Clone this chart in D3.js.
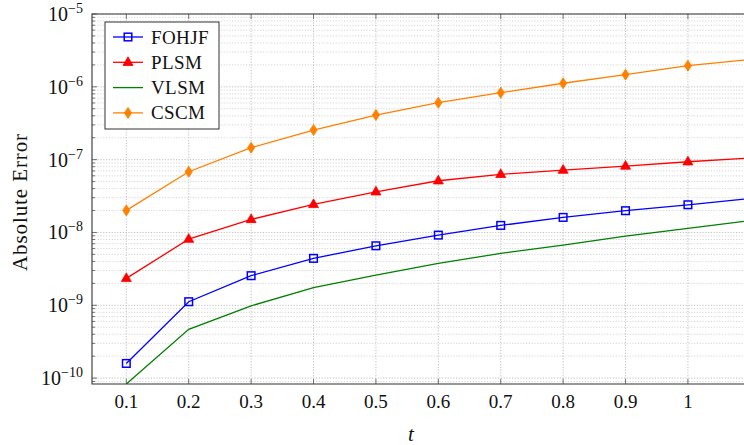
<!DOCTYPE html>
<html>
<head>
<meta charset="utf-8">
<script src="https://d3js.org/d3.v7.min.js"></script>
<style>
  body { margin: 0; background: white; }
  text { font-family: "Liberation Serif", "DejaVu Serif", serif; fill: #111; }
</style>
</head>
<body>
<div id="chart"></div>
<script>
// data
var tValues = [0.1, 0.2, 0.3, 0.4, 0.5, 0.6, 0.7, 0.8, 0.9, 1.0, 1.1, 1.2];
var fohjf = [1.59e-10, 1.12e-9, 2.55e-9, 4.41e-9, 6.56e-9, 9.2e-9, 1.25e-8, 1.61e-8, 1.99e-8, 2.4e-8, 2.92e-8, 3.4e-8];
var plsm  = [2.34e-9, 8.1e-9, 1.51e-8, 2.43e-8, 3.62e-8, 5.13e-8, 6.28e-8, 7.19e-8, 8.17e-8, 9.35e-8, 1.05e-7, 1.15e-7];
var vlsm  = [8.3e-11, 4.67e-10, 9.84e-10, 1.75e-9, 2.6e-9, 3.76e-9, 5.16e-9, 6.7e-9, 8.93e-9, 1.14e-8, 1.46e-8, 1.8e-8];
var cscm  = [2.01e-8, 6.82e-8, 1.46e-7, 2.55e-7, 4.1e-7, 6.05e-7, 8.3e-7, 1.12e-6, 1.47e-6, 1.95e-6, 2.38e-6, 2.8e-6];
var xTicks = [0.1, 0.2, 0.3, 0.4, 0.5, 0.6, 0.7, 0.8, 0.9, 1];
var yExponents = [-5, -6, -7, -8, -9, -10];
var seriesNames = ["FOHJF", "PLSM", "VLSM", "CSCM"];

var width = 744, height = 445;
var plotLeft = 92, plotTop = 14, plotBottom = 384;

var svg = d3.select("#chart")
    .append("svg")
    .attr("width", width)
    .attr("height", height)

var x = d3.scaleLinear().domain([0.045, 1.255]).range([plotLeft, plotLeft + 1.21 * 624]);
var y = d3.scaleLog().domain([8.3e-11, 1e-5]).range([plotBottom, plotTop]);
var plotRight = x.range()[1];

svg.append("clipPath").attr("id", "plotclip")
    .append("rect")
    .attr("x", plotLeft).attr("y", plotTop)
    .attr("width", plotRight - plotLeft).attr("height", plotBottom - plotTop)

// minor + major horizontal grid
var minorY = [];
for (var e = -11; e < -4; e++) {
    for (var m = 1; m <= 9; m++) {
        var v = m * Math.pow(10, e);
        if (v >= y.domain()[0] && v <= y.domain()[1] * 1.0001) minorY.push({v: v, major: m == 1});
    }
}

var grid = svg.append("g")
grid.selectAll("line.hg")
    .data(minorY)
    .enter()
    .append("line")
    .attr("x1", plotLeft).attr("x2", plotRight)
    .attr("y1", function(d){ return y(d.v); })
    .attr("y2", function(d){ return y(d.v); })
    .attr("stroke", function(d){ return d.major ? "#b0b0b0" : "#cccccc"; })
    .attr("stroke-width", 0.8)
    .attr("stroke-dasharray", "1.2,1.6")

grid.selectAll("line.vg")
    .data(xTicks)
    .enter()
    .append("line")
    .attr("x1", function(d){ return x(d); })
    .attr("x2", function(d){ return x(d); })
    .attr("y1", plotTop).attr("y2", plotBottom)
    .attr("stroke", "#b0b0b0")
    .attr("stroke-width", 0.8)
    .attr("stroke-dasharray", "1.2,1.6")

// small inward ticks
var ticks = svg.append("g").attr("stroke", "#555").attr("stroke-width", 0.8)
ticks.selectAll("line.yt")
    .data(minorY)
    .enter()
    .append("line")
    .attr("x1", plotLeft)
    .attr("x2", function(d){ return plotLeft + (d.major ? 5 : 3); })
    .attr("y1", function(d){ return y(d.v); })
    .attr("y2", function(d){ return y(d.v); })
ticks.selectAll("line.xt")
    .data(xTicks)
    .enter()
    .append("line")
    .attr("x1", function(d){ return x(d); })
    .attr("x2", function(d){ return x(d); })
    .attr("y1", plotBottom).attr("y2", plotBottom - 5)
ticks.selectAll("line.xt2")
    .data(xTicks)
    .enter()
    .append("line")
    .attr("x1", function(d){ return x(d); })
    .attr("x2", function(d){ return x(d); })
    .attr("y1", plotTop).attr("y2", plotTop + 5)

// series
var series = [
    {name: seriesNames[0], values: fohjf, color: "#0000ff", marker: "square"},
    {name: seriesNames[1], values: plsm,  color: "#ff0000", marker: "triangle"},
    {name: seriesNames[2], values: vlsm,  color: "#008000", marker: "none"},
    {name: seriesNames[3], values: cscm,  color: "#ff8000", marker: "diamond"}
];

var line = d3.line()
    .x(function(d){ return x(d[0]); })
    .y(function(d){ return y(d[1]); })

var plot = svg.append("g").attr("clip-path", "url(#plotclip)")

function drawMarker(g, type, color) {
    if (type == "square") {
        g.append("rect").attr("x", -3.8).attr("y", -3.8).attr("width", 7.6).attr("height", 7.6)
            .attr("fill", "none").attr("stroke", color).attr("stroke-width", 1.5)
    } else if (type == "triangle") {
        g.append("path").attr("d", "M0,-5.5L5,3.2L-5,3.2Z")
            .attr("fill", color).attr("stroke", color).attr("stroke-width", 0.8)
    } else if (type == "diamond") {
        g.append("path").attr("d", "M0,-5.5L3.6,0L0,5.5L-3.6,0Z")
            .attr("fill", color).attr("stroke", color).attr("stroke-width", 0.8)
    }
}

series.forEach(function(s) {
    var pts = tValues.map(function(t, i){ return [t, s.values[i]]; });
    plot.append("path")
        .datum(pts)
        .attr("d", line)
        .attr("fill", "none")
        .attr("stroke", s.color)
        .attr("stroke-width", 1.3)
    if (s.marker != "none") {
        plot.selectAll(null)
            .data(pts)
            .enter()
            .append("g")
            .attr("transform", function(d){ return "translate(" + x(d[0]) + "," + y(d[1]) + ")"; })
            .each(function(){ drawMarker(d3.select(this), s.marker, s.color); })
    }
});

// frame
svg.append("path")
    .attr("d", "M" + plotRight + "," + plotTop + "H" + plotLeft + "V" + plotBottom + "H" + plotRight)
    .attr("fill", "none")
    .attr("stroke", "#333")
    .attr("stroke-width", 1.1)

// tick labels
svg.selectAll("text.xl")
    .data(xTicks)
    .enter()
    .append("text")
    .attr("x", function(d){ return x(d); })
    .attr("y", 408)
    .attr("text-anchor", "middle")
    .style("font-size", "19px")
    .text(function(d){ return d == 1 ? "1" : d3.format(".1f")(d); })

var yl = svg.selectAll("text.yl")
    .data(yExponents)
    .enter()
    .append("text")
    .attr("x", 83)
    .attr("y", function(d){ return y(Math.pow(10, d)) + 7; })
    .attr("text-anchor", "end")
    .style("font-size", "20px")
yl.append("tspan").text("10")
yl.append("tspan")
    .attr("dy", -8)
    .style("font-size", "14px")
    .text(function(d){ return "\u2212" + (-d); })

// axis labels
svg.append("text")
    .attr("transform", "translate(27,202) rotate(-90)")
    .attr("text-anchor", "middle")
    .style("font-size", "21px")
    .style("letter-spacing", "0.9px")
    .text("Absolute Error")

svg.append("text")
    .attr("x", 411)
    .attr("y", 441)
    .attr("text-anchor", "middle")
    .style("font-size", "21px")
    .style("font-style", "italic")
    .text("t")

// legend
var legend = svg.append("g")
legend.append("rect")
    .attr("x", 105).attr("y", 22).attr("width", 114).attr("height", 107)
    .attr("fill", "white").attr("stroke", "#333").attr("stroke-width", 1)

var items = legend.selectAll("g.item")
    .data(series)
    .enter()
    .append("g")
    .attr("transform", function(d, i){ return "translate(0," + (37 + i * 25.3) + ")"; })

items.append("line")
    .attr("x1", 113).attr("x2", 143)
    .attr("stroke", function(d){ return d.color; })
    .attr("stroke-width", 1.3)
items.append("g")
    .attr("transform", "translate(128,0)")
    .each(function(d){ drawMarker(d3.select(this), d.marker, d.color); })
items.append("text")
    .attr("x", 151)
    .attr("y", 6.5)
    .style("font-size", "19px")
    .style("letter-spacing", "0.4px")
    .text(function(d){ return d.name; })
</script>
</body>
</html>
